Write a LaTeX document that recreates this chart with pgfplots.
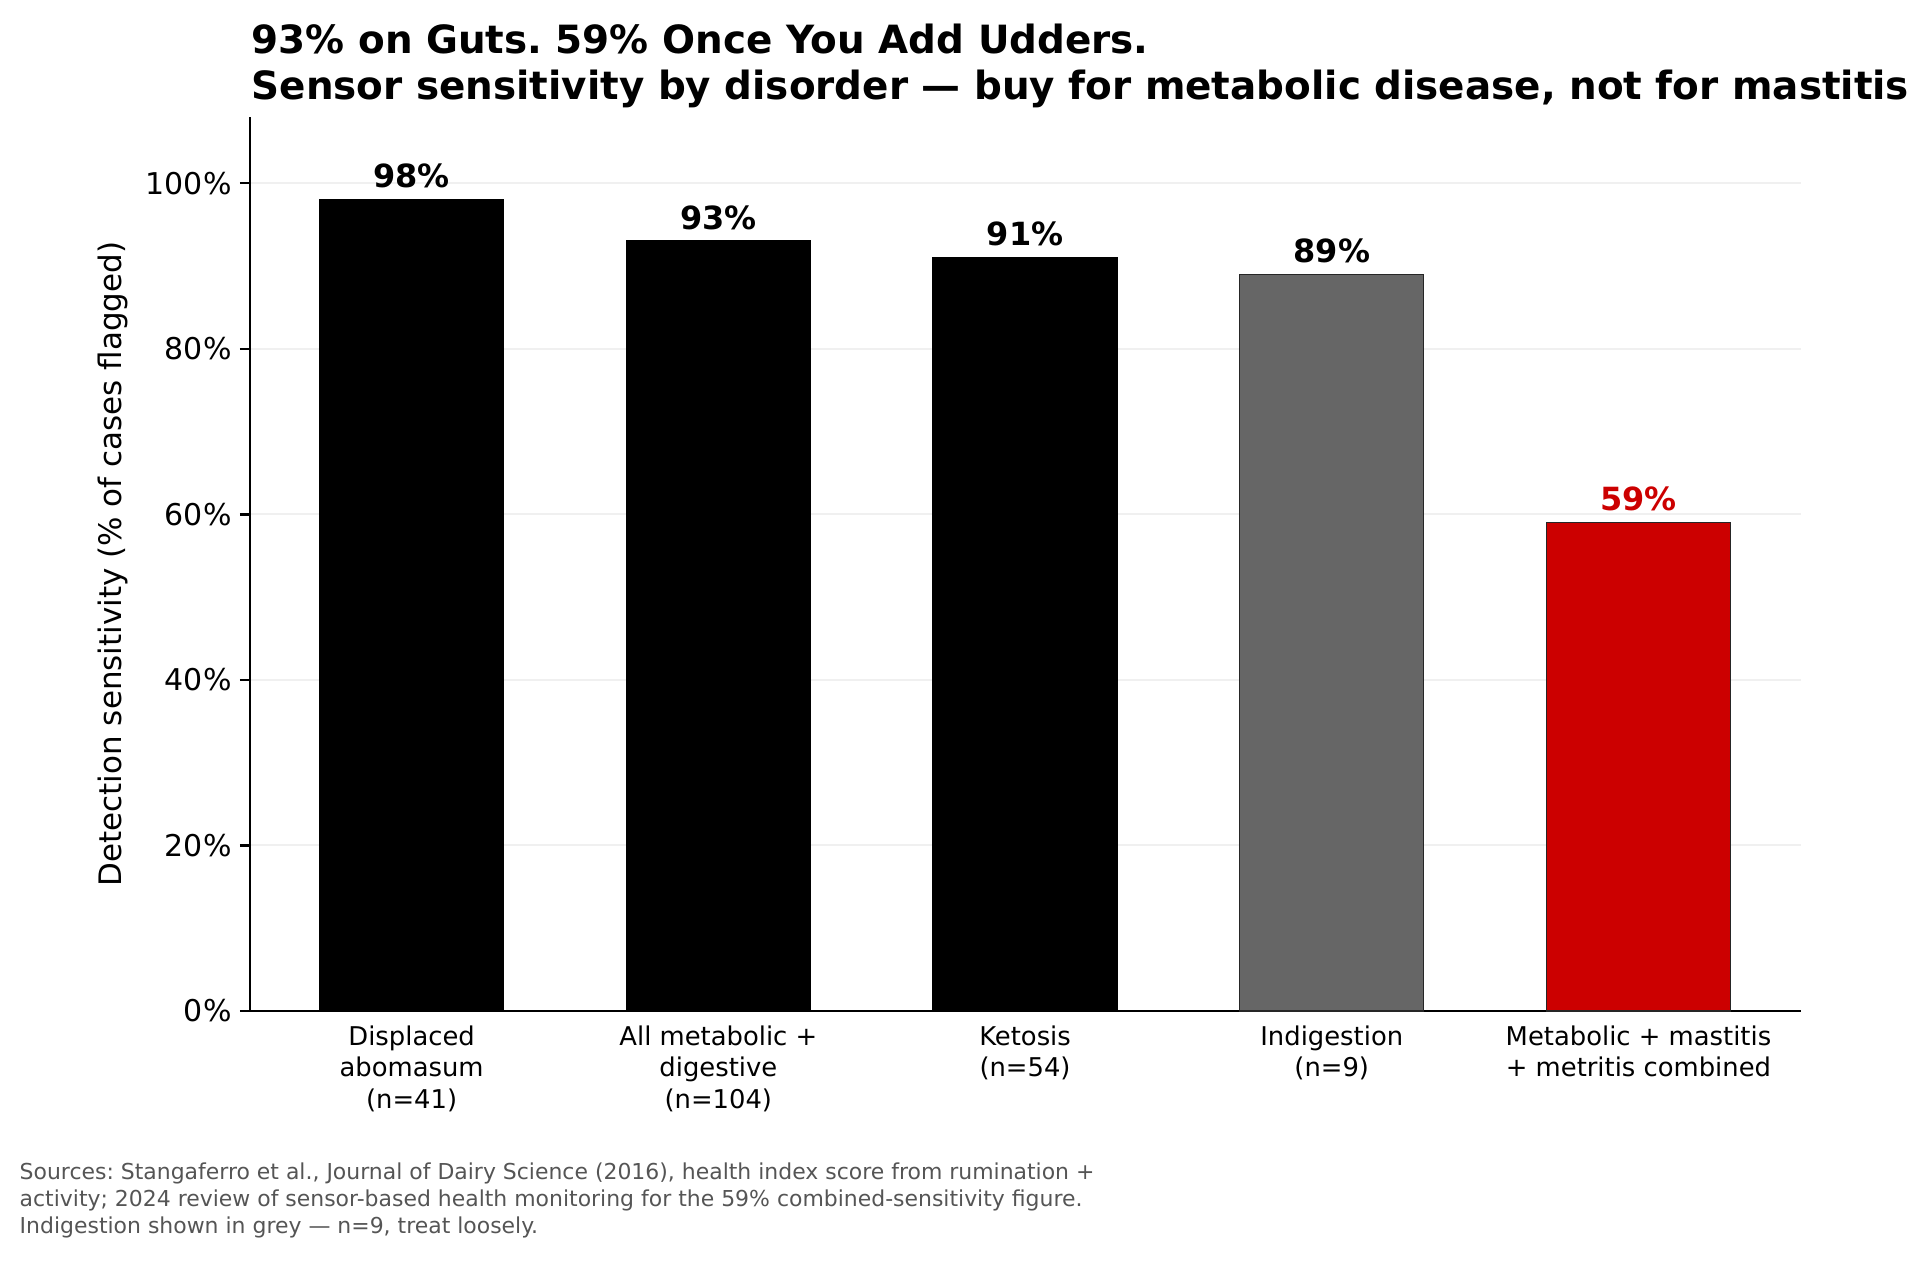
\documentclass[border=0pt]{standalone}
\usepackage{pgfplots}
\pgfplotsset{compat=1.18}
\usepackage{fontspec}
\setmainfont{DejaVu Sans}
\frenchspacing
\definecolor{barred}{HTML}{CC0000}
\definecolor{bargray}{HTML}{666666}
\definecolor{notegray}{HTML}{555555}
\definecolor{gridc}{HTML}{F0F0F0}
\begin{document}
\begin{tikzpicture}
\path[use as bounding box] (0,0) rectangle (695.2pt,454.3pt);
\begin{axis}[
  at={(90pt,90.36pt)}, anchor=south west,
  scale only axis, width=558.4pt, height=321.8pt,
  xmin=-0.527, xmax=4.53, ymin=0, ymax=108,
  axis x line*=bottom, axis y line*=left,
  axis line style={line width=0.9pt, black},
  clip=false,
  /pgf/number format/assume math mode=true,
  /pgf/number format/fixed, /pgf/number format/precision=0,
  ytick={0,20,40,60,80,100},
  yticklabel={\pgfmathprintnumber{\tick}\%},
  yticklabel style={font=\fontsize{10.8}{13}\selectfont, anchor=east, xshift=0.5pt},
  tick align=outside,
  ytick style={line width=0.9pt, black},
  major tick length=3.6pt,
  xtick={0,1,2,3,4},
  xtick style={draw=none},
  xticklabels={{Displaced\\abomasum\\(n=41)},{All metabolic +\\digestive\\(n=104)},{Ketosis\\(n=54)},{Indigestion\\(n=9)},{Metabolic + mastitis\\+ metritis combined}},
  xticklabel style={font=\fontsize{9.3}{11.3}\selectfont, align=center, anchor=north, yshift=1.8pt},
  ymajorgrids, grid style={line width=0.7pt, gridc},
  ylabel={Detection sensitivity (\% of cases flagged)},
  ylabel style={font=\fontsize{11.15}{13}\selectfont, at={(axis description cs:-0.0883,0.5)}, anchor=center},
  nodes near coords={\pgfmathprintnumber{\pgfplotspointmeta}\%},
  nodes near coords style={anchor=base, yshift=4.3pt, font=\bfseries\fontsize{11.5}{13}\selectfont},
]
\addplot[ybar, bar width=0.6, bar shift=0pt, fill=black, draw=black, line width=0.5pt] coordinates {(0,98)};
\addplot[ybar, bar width=0.6, bar shift=0pt, fill=black, draw=black, line width=0.5pt] coordinates {(1,93)};
\addplot[ybar, bar width=0.6, bar shift=0pt, fill=black, draw=black, line width=0.5pt] coordinates {(2,91)};
\addplot[ybar, bar width=0.6, bar shift=0pt, fill=bargray, draw=black!85, line width=0.5pt, nodes near coords style={text=black}] coordinates {(3,89)};
\addplot[ybar, bar width=0.6, bar shift=0pt, fill=barred, draw=black!85, line width=0.5pt, nodes near coords style={text=barred}] coordinates {(4,59)};
\end{axis}
\node[anchor=base west, inner sep=0pt, font=\bfseries\fontsize{14}{16}\selectfont] at (90.4pt,434.9pt) {93\% on Guts. 59\% Once You Add Udders.};
\node[anchor=base west, inner sep=0pt, font=\bfseries\fontsize{14}{16}\selectfont] at (90.4pt,418.3pt) {Sensor sensitivity by disorder — buy for metabolic disease, not for mastitis};
\node[anchor=base west, inner sep=0pt, text=notegray, font=\fontsize{7.9}{9.7}\selectfont] at (6.9pt,29.5pt) {Sources: Stangaferro et al., Journal of Dairy Science (2016), health index score from rumination +};
\node[anchor=base west, inner sep=0pt, text=notegray, font=\fontsize{7.9}{9.7}\selectfont] at (6.9pt,19.8pt) {activity; 2024 review of sensor-based health monitoring for the 59\% combined-sensitivity figure.};
\node[anchor=base west, inner sep=0pt, text=notegray, font=\fontsize{7.9}{9.7}\selectfont] at (6.9pt,10.1pt) {Indigestion shown in grey — n=9, treat loosely.};
\end{tikzpicture}
\end{document}
